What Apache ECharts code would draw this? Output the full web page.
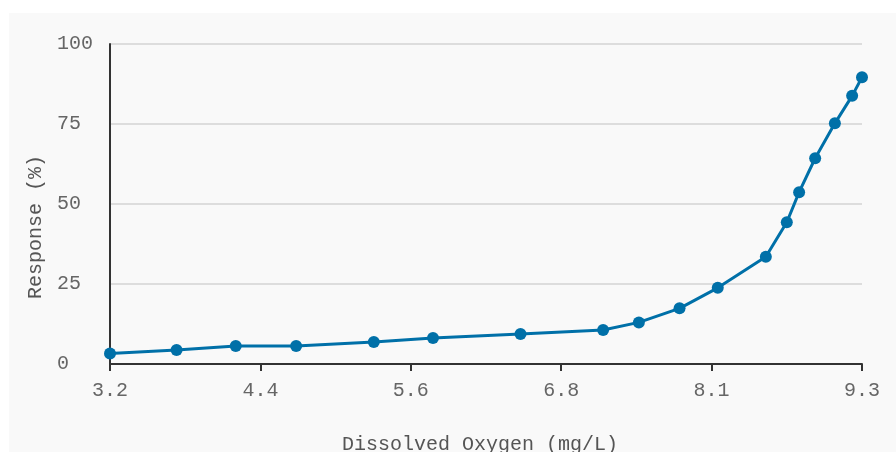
<!DOCTYPE html>
<html>
<head>
<meta charset="utf-8">
<script src="https://cdn.jsdelivr.net/npm/echarts@6/dist/echarts.min.js"></script>
<style>
  html, body { margin: 0; padding: 0; background: #ffffff; width: 896px; height: 452px; overflow: hidden; }
  #chart { position: absolute; left: 9px; top: 13px; width: 887px; height: 439px; background: #f9f9f9; }
</style>
</head>
<body>
<div id="chart"></div>
<script>
const dissolvedOxygen = [3.18, 3.72, 4.20, 4.69, 5.32, 5.80, 6.51, 7.18, 7.47, 7.80, 8.11, 8.50, 8.67, 8.77, 8.90, 9.06, 9.20, 9.28];
const responsePct     = [3.3, 4.4, 5.6, 5.6, 6.9, 8.1, 9.4, 10.6, 13.0, 17.4, 23.8, 33.5, 44.3, 53.7, 64.3, 75.2, 83.8, 89.6];
const xMin = 3.18, xMax = 9.28, xTickCount = 5;
const yTicks = [0, 25, 50, 75, 100];

const font = 'Liberation Mono';
const chart = echarts.init(document.getElementById('chart'));
chart.setOption({
  animation: false,
  grid: { left: 101, top: 31, right: 34, bottom: 88, outerBoundsMode: 'none', containLabel: false },
  xAxis: {
    type: 'value',
    min: xMin, max: xMax,
    interval: (xMax - xMin) / xTickCount,
    name: 'Dissolved Oxygen (mg/L)',
    nameLocation: 'middle',
    nameGap: 71,
    nameTextStyle: { fontFamily: font, fontSize: 20, color: '#555', padding: [0, 12, 0, 0] },
    axisLine: { show: true, lineStyle: { color: '#333', width: 2 } },
    axisTick: { show: true, length: 7, lineStyle: { color: '#333', width: 2 } },
    axisLabel: { fontFamily: font, fontSize: 20, color: '#666', margin: 17,
      formatter: v => v.toFixed(1) },
    splitLine: { show: false }
  },
  yAxis: {
    type: 'value',
    min: yTicks[0], max: yTicks[yTicks.length - 1], interval: 25,
    name: 'Response (%)',
    nameLocation: 'middle',
    nameGap: 64,
    nameTextStyle: { fontFamily: font, fontSize: 20, color: '#555', padding: [0, 46, 0, 0] },
    axisLine: { show: true, lineStyle: { color: '#333', width: 2 } },
    axisTick: { show: false },
    axisLabel: { fontFamily: font, fontSize: 20, color: '#666', margin: 53, align: 'left' },
    splitLine: { show: true, lineStyle: { color: '#dddddd', width: 2 } }
  },
  series: [{
    type: 'line',
    data: dissolvedOxygen.map((x, i) => [x, responsePct[i]]),
    symbol: 'circle',
    symbolSize: 12,
    lineStyle: { color: '#0070a8', width: 3 },
    itemStyle: { color: '#0070a8' }
  }]
});
</script>
</body>
</html>
